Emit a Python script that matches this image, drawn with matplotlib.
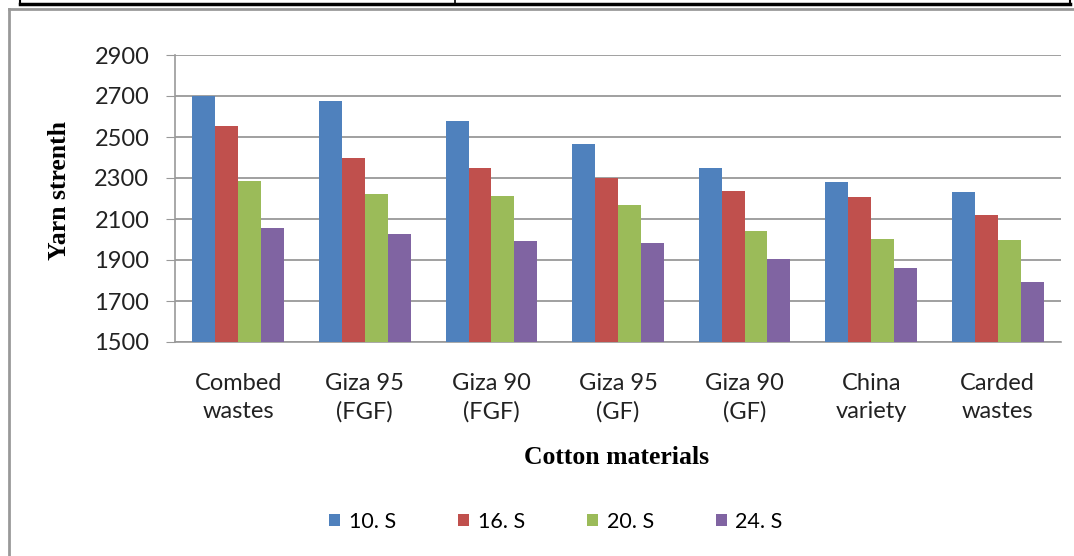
import numpy as np
import matplotlib.pyplot as plt
from matplotlib.lines import Line2D

categories = ["Combed\nwastes", "Giza 95\n(FGF)", "Giza 90\n(FGF)", "Giza 95\n(GF)",
              "Giza 90\n(GF)", "China\nvariety", "Carded\nwastes"]
series_names = ["10. S", "16. S", "20. S", "24. S"]
s10 = [2700, 2675, 2580, 2466, 2350, 2280, 2232]
s16 = [2552, 2400, 2350, 2300, 2237, 2207, 2120]
s20 = [2285, 2222, 2210, 2168, 2041, 2002, 1998]
s24 = [2056, 2027, 1995, 1983, 1905, 1861, 1795]
colors = ["#4f81bd", "#c0504d", "#9bbb59", "#8064a2"]
yticks = [1500, 1700, 1900, 2100, 2300, 2500, 2700, 2900]

W, H = 1074, 556
fig = plt.figure(figsize=(W / 100, H / 100), dpi=100)
ax = fig.add_axes([175 / W, 1 - 342 / H, (1061 - 175) / W, (342 - 55) / H])

x = np.arange(len(categories))
bw = 0.181
for i, (vals, c, name) in enumerate(zip([s10, s16, s20, s24], colors, series_names)):
    ax.bar(x + (i - 1.5) * bw, vals, bw, color=c, label=name, zorder=3)

ax.set_ylim(1500, 2900)
ax.set_xlim(-0.5, len(categories) - 0.5)
ax.set_yticks(yticks)
ax.set_xticks(x)
ax.set_xticklabels(categories, family="Lato", fontsize=17, color="#222222", linespacing=1.45)
for lab in ax.get_yticklabels():
    lab.set_family("Lato")
    lab.set_fontsize(17)
    lab.set_color("#222222")
ax.tick_params(axis="x", length=0, pad=22)
ax.tick_params(axis="y", length=6.5, color="#999999", pad=12)
ax.grid(axis="y", color="#999999", linewidth=1.3, zorder=0)
for s in ["top", "right"]:
    ax.spines[s].set_visible(False)
ax.spines["left"].set_color("#999999")
ax.spines["bottom"].set_color("#999999")
ax.spines["left"].set_linewidth(1.2)
ax.spines["bottom"].set_linewidth(1.2)

fig.text(60 / W, 1 - 190 / H, "Yarn strenth", rotation=90, ha="center", va="center",
         family="Liberation Serif", fontweight="bold", fontsize=18.5)
fig.text(617 / W, 1 - 458 / H, "Cotton materials", ha="center", va="center",
         family="Liberation Serif", fontweight="bold", fontsize=18.5)

leg = fig.legend(loc="center", bbox_to_anchor=(556 / W, 1 - 522 / H), ncol=4,
                 frameon=False, prop={"family": "Lato", "size": 15.5},
                 handlelength=0.5, handleheight=0.5, handletextpad=0.4, columnspacing=2.9)

# page frame lines around the chart
fig.add_artist(Line2D([20 / W, 1070 / W], [1 - 4 / H, 1 - 4 / H], color="black", lw=2.5))
fig.add_artist(Line2D([20 / W, 20 / W], [1, 1 - 4 / H], color="black", lw=1.5))
fig.add_artist(Line2D([455 / W, 455 / W], [1, 1 - 4 / H], color="black", lw=1.2))
fig.add_artist(Line2D([1070 / W, 1070 / W], [1, 1 - 4 / H], color="black", lw=1.5))
fig.add_artist(Line2D([9 / W, 1], [1 - 9 / H, 1 - 9 / H], color="#999999", lw=2))
fig.add_artist(Line2D([9 / W, 9 / W], [0, 1 - 9 / H], color="#999999", lw=2))

fig.savefig("out.png", dpi=100)
